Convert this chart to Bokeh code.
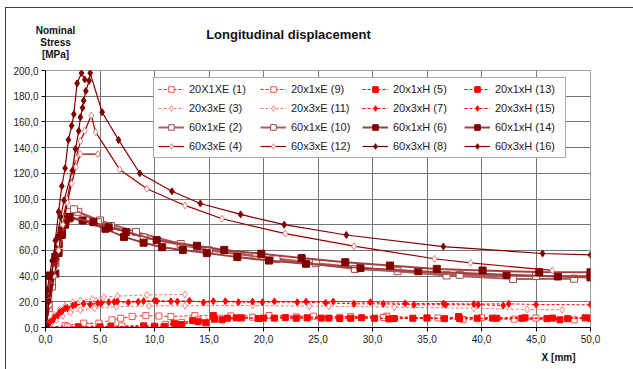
from bokeh.plotting import figure
from bokeh.models import Legend, LegendItem, Title
from bokeh.layouts import column, row
from bokeh.core.properties import value
from bokeh.embed import file_html
from bokeh.resources import INLINE

# ---------------- data (X [mm], nominal stress [MPa]) ----------------
# 20x1xE
s1_x = [0, 1.8, 3.5, 4.9, 6.1, 6.9, 7.95, 9.2, 10.4, 11.5, 13.7, 17.0, 20.5, 24.6, 28.0, 31.3, 35.0, 38.3, 43.0, 48.5]
s1_y = [0, 1.5, 3.4, 3.4, 6.0, 7.2, 8.6, 9.3, 8.9, 8.5, 9.3, 9.0, 9.3, 8.8, 8.5, 8.8, 7.5, 6.0, 6.5, 6.0]
s9_x = [0, 2.0, 4.0, 7.0, 9.0, 11.0, 12.5, 14.0, 16.0, 19.0, 23.0, 27.0, 31.0, 36.0, 40.0, 45.0, 50.0]
s9_y = [0, 0.5, 0.8, 1.2, 1.5, 2.5, 4.0, 6.0, 7.3, 8.0, 8.3, 8.0, 7.8, 7.5, 7.6, 7.3, 7.5]
# 20x1xH
s5_x = [0, 3.0, 6.0, 9.0, 10.9, 11.8, 12.5, 13.5, 14.7, 15.4, 16.2, 16.7, 18.0, 19.5, 21.0, 23.0, 25.3, 27.0,
        28.0, 30.2, 31.5, 33.7, 36.6, 37.9, 39.6, 41.4, 43.7, 46.0, 47.2, 47.9, 50.0]
s5_y = [0, 0.5, 0.8, 1.0, 0.8, 3.4, 2.3, 5.4, 3.6, 9.3, 6.0, 7.2, 7.5, 7.0, 7.3, 7.2, 7.3, 7.0,
        7.2, 7.2, 6.7, 7.2, 6.9, 8.6, 7.2, 7.2, 7.2, 6.9, 6.0, 6.9, 7.2]
s13_x = [0, 5.0, 10.0, 12.0, 14.0, 15.5, 17.5, 20.0, 22.0, 24.0, 26.0, 29.0, 32.0, 35.0, 38.0, 41.0, 44.0, 46.5, 49.5]
s13_y = [0, 0.5, 1.0, 2.0, 4.5, 6.5, 7.5, 7.3, 7.7, 7.5, 7.3, 7.6, 7.0, 7.4, 7.0, 7.3, 7.5, 7.3, 7.5]
# 20x3xE
s3_x = [0, 0.4, 0.8, 1.3, 1.8, 2.5, 3.2, 4.3, 5.35, 6.6, 9.3, 12.8]
s3_y = [0, 5.0, 10.0, 14.0, 17.0, 19.5, 21.0, 22.3, 23.6, 24.4, 25.4, 25.7]
s11_x = [0, 0.5, 1.0, 1.6, 2.3, 3.2, 4.5, 6.5, 9.5, 12.8, 19.0, 24.2, 26.0, 32.0, 39.3, 44.2, 47.4]
s11_y = [0, 3.0, 6.0, 9.0, 11.5, 13.5, 15.0, 16.2, 16.8, 17.0, 17.1, 16.6, 16.6, 15.8, 15.0, 14.0, 13.8]
# 20x3xH
s7_x = [0, 0.3, 0.7, 1.1, 1.5, 2.0, 2.75, 4.1, 5.1, 5.8, 6.6, 9.0, 10.2, 12.1, 15.4, 17.7, 19.9, 23.1,
        25.7, 28.3, 31.0, 33.8, 36.7, 39.7, 42.0]
s7_y = [0, 3.0, 6.0, 9.5, 12.5, 15.0, 17.7, 17.9, 18.9, 19.7, 20.2, 20.5, 20.5, 20.2, 20.5, 19.7, 19.7, 19.7,
        19.2, 18.4, 18.4, 17.7, 17.7, 17.7, 17.1]
s15_x = [0, 0.4, 0.8, 1.3, 1.8, 2.5, 3.5, 4.8, 6.3, 7.6, 8.5, 10.0, 11.5, 13.2, 14.5, 16.5, 19.0, 21.0,
         23.9, 26.4, 29.8, 33.0, 36.5, 39.3, 42.5, 45.0, 50.0]
s15_y = [0, 4.0, 8.0, 12.0, 15.0, 17.0, 18.5, 19.0, 20.0, 19.5, 20.0, 21.0, 20.4, 20.8, 19.5, 20.4, 20.1, 20.3,
         20.2, 20.2, 19.7, 18.8, 18.6, 18.3, 18.4, 17.9, 17.7]
# 60x1xE
s2_x = [0, 0.3, 0.6, 0.9, 1.2, 1.5, 1.8, 2.2, 3.0, 5.0, 8.3, 12.4, 19.3, 24.8, 32.3, 36.8, 42.9, 48.5]
s2_y = [0, 15.0, 32.0, 50.0, 63.0, 73.0, 82.0, 90.0, 90.0, 83.3, 74.4, 65.0, 55.6, 50.0, 43.8, 40.5, 37.8, 38.0]
s10_x = [0, 0.3, 0.6, 0.9, 1.2, 1.5, 1.9, 2.6, 4.8, 6.0, 9.0, 15.0, 21.2, 28.4, 38.0, 45.0, 50.0]
s10_y = [0, 18.0, 36.0, 52.0, 66.0, 76.0, 84.0, 92.0, 82.0, 79.0, 70.0, 60.0, 53.2, 45.6, 41.0, 40.0, 40.0]
# 60x1xH
s6_x = [0, 0.2, 0.5, 0.9, 1.2, 1.5, 1.8, 2.2, 3.4, 5.5, 7.2, 9.0, 10.7, 12.6, 14.8, 17.6, 20.5, 23.9,
        28.9, 34.2, 42.3, 47.0, 50.0]
s6_y = [0, 22.0, 40.0, 55.0, 65.0, 75.0, 83.0, 85.0, 83.3, 76.8, 70.5, 66.0, 62.5, 60.4, 57.9, 54.8, 52.1, 49.6,
        46.4, 43.8, 41.0, 39.7, 39.0]
s14_x = [0, 0.05, 0.9, 1.2, 1.5, 1.8, 2.2, 4.4, 5.8, 7.4, 10.2, 13.9, 16.4, 19.8, 23.5, 27.5, 31.6, 35.9,
         40.1, 45.3, 50.0]
s14_y = [0, 40.5, 42.0, 58.0, 72.0, 80.0, 86.0, 82.0, 78.0, 74.4, 68.0, 63.6, 60.4, 57.4, 54.0, 50.8, 48.2, 45.6,
         44.4, 43.1, 43.0]
# 60x3xE
s4_x = [0, 0.4, 0.8, 1.2, 1.6, 2.0, 2.4, 2.8, 3.2, 3.6, 4.2, 4.6, 6.8, 9.3, 12.8, 16.2, 22.0, 28.3, 35.7, 39.0, 46.5]
s4_y = [0, 22.0, 45.0, 65.0, 85.0, 100.0, 118.0, 132.0, 145.0, 153.0, 165.0, 152.0, 123.0, 108.0, 95.0, 84.6,
        73.0, 63.3, 53.5, 50.3, 44.4]
s12_x = [0, 0.4, 0.8, 1.2, 1.6, 2.0, 2.4, 2.8, 3.2, 4.8]
s12_y = [0, 18.0, 40.0, 60.0, 80.0, 97.0, 112.0, 125.0, 135.0, 135.0]
# 60x3xH
s8_x = [0, 0.3, 0.6, 0.9, 1.2, 1.5, 1.8, 2.1, 2.4, 2.6, 2.9, 3.3, 3.6]
s8_y = [0, 20.0, 42.0, 67.7, 90.0, 110.0, 124.0, 146.0, 157.0, 166.0, 190.0, 198.0, 193.0]
s16_x = [0, 0.15, 0.6, 1.07, 1.4, 1.7, 2.45, 2.75, 3.05, 3.2, 3.4, 3.5, 3.7, 4.0, 4.1, 5.2, 6.7, 8.65, 11.6,
         14.2, 17.9, 21.9, 27.6, 36.5, 45.6, 50.0]
s16_y = [0, 29.0, 52.0, 70.0, 86.0, 99.0, 122.0, 139.0, 153.0, 163.6, 171.0, 176.6, 184.0, 192.0, 198.0,
         167.5, 146.0, 120.0, 106.0, 96.5, 88.0, 80.0, 72.0, 63.0, 57.6, 56.5]

labels = ["20X1XE (1)", "20x1xE (9)", "20x1xH (5)", "20x1xH (13)",
          "20x3xE (3)", "20x3xE (11)", "20x3xH (7)", "20x3xH (15)",
          "60x1xE (2)", "60x1xE (10)", "60x1xH (6)", "60x1xH (14)",
          "60x3xE (4)", "60x3xE (12)", "60x3xH (8)", "60x3xH (16)"]
x_ticks = [0, 5, 10, 15, 20, 25, 30, 35, 40, 45, 50]
y_ticks = [0, 20, 40, 60, 80, 100, 120, 140, 160, 180, 200]
title_text = "Longitudinal displacement"
ylabel_lines = ["Nominal", "Stress", "[MPa]"]
xlabel_text = "X [mm]"

series = [(s1_x, s1_y), (s9_x, s9_y), (s5_x, s5_y), (s13_x, s13_y),
          (s3_x, s3_y), (s11_x, s11_y), (s7_x, s7_y), (s15_x, s15_y),
          (s2_x, s2_y), (s10_x, s10_y), (s6_x, s6_y), (s14_x, s14_y),
          (s4_x, s4_y), (s12_x, s12_y), (s8_x, s8_y), (s16_x, s16_y)]

# style per group: line color, width, dash, marker, marker line, marker fill, size
styles = {
    "20x1xE": ("#ff2020", 1, "3 2", "square", "#ff5050", None, 6),
    "20x1xH": ("#ff0000", 1, "3 2", "square", "#ff0000", "#ff0000", 6),
    "20x3xE": ("#ff7070", 1, "3 2", "diamond", "#ff8080", None, 7),
    "20x3xH": ("#ff0000", 1, "3 2", "diamond", "#ff0000", "#ff0000", 7),
    "60x1xE": ("#b05a5a", 2, "solid", "square", "#a04848", None, 7),
    "60x1xH": ("#a04040", 2, "solid", "square", "#800000", "#800000", 7),
    "60x3xE": ("#990000", 1.2, "solid", "diamond", "#d88080", None, 7),
    "60x3xH": ("#800000", 1.2, "solid", "diamond", "#800000", "#800000", 7),
}

FONT = "Liberation Sans"

# ---------- header strip: chart title and y-axis caption ----------
top = figure(width=627, height=57, x_range=(0, 627), y_range=(0, 57),
             output_backend="svg", toolbar_location=None,
             x_axis_location=None, y_axis_location=None,
             min_border_left=0, min_border_right=0, min_border_top=0, min_border_bottom=0)
top.grid.visible = False
top.outline_line_color = None
top.background_fill_color = "white"
top.border_fill_color = "white"
top.text(x=[282], y=[31], text=[title_text], text_font=value(FONT), text_font_size="13px",
         text_font_style="bold", text_align="center", text_baseline="middle", text_color="#111111")
top.text(x=[49, 49, 49], y=[35, 23, 11], text=ylabel_lines, text_font=value(FONT), text_font_size="10px",
         text_font_style="bold", text_align="center", text_baseline="middle", text_color="#111111")

# ---------- main chart ----------
p = figure(width=627, height=304, x_range=(0, 50), y_range=(0, 200),
           output_backend="svg", toolbar_location=None,
           min_border_left=39, min_border_right=43, min_border_top=5, min_border_bottom=42)
p.background_fill_color = "white"
p.border_fill_color = "white"
p.outline_line_color = "#a0a0a0"

p.xgrid.grid_line_color = "#747474"
p.ygrid.grid_line_color = "#747474"
p.xaxis.ticker = x_ticks
p.yaxis.ticker = y_ticks
p.xaxis.major_label_overrides = {t: f"{t:.1f}".replace(".", ",") for t in x_ticks}
p.yaxis.major_label_overrides = {t: f"{t:.1f}".replace(".", ",") for t in y_ticks}
for ax in (p.xaxis, p.yaxis):
    ax.axis_line_color = "black"
    ax.major_tick_line_color = "black"
    ax.major_tick_out = 4
    ax.major_tick_in = 0
    ax.minor_tick_line_color = None
    ax.major_label_text_font = FONT
    ax.major_label_text_font_size = "10px"
    ax.major_label_text_color = "#222222"
    ax.major_label_standoff = 3

items = []
for lab, (xs, ys) in zip(labels, series):
    key = lab[:6].replace("X", "x")
    lc, lw, dash, mk, mlc, mfc, ms = styles[key]
    r1 = p.line(xs, ys, line_color=lc, line_width=lw, line_dash=dash)
    r2 = p.scatter(xs, ys, marker=mk, size=ms, line_color=mlc,
                   fill_color=("white" if mfc is None else mfc), line_width=1)
    items.append(LegendItem(label=lab, renderers=[r1, r2]))

legend = Legend(items=items, orientation="horizontal", ncols=4, location=(108, 169),
                label_text_font=FONT, label_text_font_size="11px", label_text_color="#222222",
                glyph_width=26, glyph_height=14, label_height=14, label_width=66,
                label_standoff=5, spacing=5, padding=4, margin=0,
                border_line_color="#555555", border_line_width=1,
                background_fill_color="white", background_fill_alpha=1.0)
p.add_layout(legend, "center")

p.add_layout(Title(text=xlabel_text, align="right", offset=15, standoff=8,
                   text_font=FONT, text_font_size="10px", text_font_style="bold",
                   text_color="#111111"), "below")

layout = column(row(top), p, spacing=0)
layout.styles = {"margin-left": "5px", "margin-top": "7px",
                 "border-left": "1px solid #404040", "border-top": "1px solid #404040"}

open("out.html", "w").write(file_html(layout, INLINE))
